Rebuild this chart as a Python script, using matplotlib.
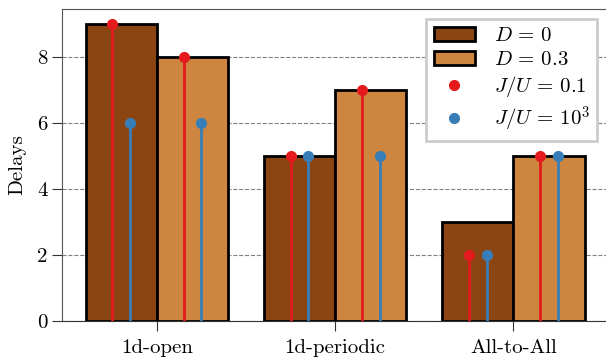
import numpy as np
import matplotlib.pyplot as plt

plt.rcParams['font.family'] = 'serif'
plt.rcParams['font.serif'] = ['cmr10', 'DejaVu Serif']
plt.rcParams['mathtext.fontset'] = 'cm'
plt.rcParams['axes.unicode_minus'] = False
plt.rcParams['font.size'] = 15

# Data
topologies = ['1d-open', '1d-periodic', 'All-to-All']
delay_d0 = [9, 5, 3]
delay_d03 = [8, 7, 5]
# stems: J/U = 0.1 and J/U = 10^3, for D = 0 and D = 0.3
ju01_d0 = [9, 5, 2]
ju01_d03 = [8, 7, 5]
ju1e3_d0 = [6, 5, 2]
ju1e3_d03 = [6, 5, 5]

c_d0 = '#8b4513'
c_d03 = '#cd853f'
c_red = '#e41a1c'
c_blue = '#377eb8'

x = np.arange(len(topologies))
w = 0.4
dx = 0.05

fig = plt.figure(figsize=(6.06, 3.6), dpi=100)
ax = fig.add_axes([0.103, 0.108, 0.9, 0.867])

b0 = ax.bar(x - w / 2, delay_d0, w, color=c_d0, edgecolor='black', linewidth=2, zorder=2)
b1 = ax.bar(x + w / 2, delay_d03, w, color=c_d03, edgecolor='black', linewidth=2, zorder=2)

for off, red, blue in [(-w / 2, ju01_d0, ju1e3_d0), (w / 2, ju01_d03, ju1e3_d03)]:
    ax.vlines(x + off - dx, 0, red, color=c_red, lw=2, zorder=3)
    ax.plot(x + off - dx, red, 'o', color=c_red, ms=7, zorder=4)
    ax.vlines(x + off + dx, 0, blue, color=c_blue, lw=2, zorder=3)
    ax.plot(x + off + dx, blue, 'o', color=c_blue, ms=7, zorder=4)

m0, = ax.plot([], [], 'o', color=c_red, ms=7)
m1, = ax.plot([], [], 'o', color=c_blue, ms=7)

ax.set_xlim(-0.53, 2.53)
ax.set_ylim(0, 9.45)
ax.set_xticks(x)
ax.set_xticklabels(topologies)
ax.set_yticks([0, 2, 4, 6, 8])
ax.set_ylabel('Delays', labelpad=8)
ax.yaxis.grid(True, ls='--', color='gray', lw=0.8, zorder=0)
ax.set_axisbelow(True)
for s in ['top', 'right', 'left']:
    ax.spines[s].set_color('#555555')
ax.spines['bottom'].set_color('#333333')
ax.tick_params(direction='out', length=7, color='#333333')
ax.tick_params(axis='x', pad=6)

leg = ax.legend([b0, b1, m0, m1],
                [r'$D\,=\,0$', r'$D\,=\,0.3$', r'$J/U\,=\,0.1$', r'$J/U\,=\,10^3$'],
                loc='upper right', fancybox=False, edgecolor='#cccccc', framealpha=1,
                handlelength=2.0, handletextpad=0.9, borderpad=0.35,
                labelspacing=0.25, fontsize=15)
leg.get_frame().set_linewidth(2)

fig.savefig('out.png', dpi=100)
